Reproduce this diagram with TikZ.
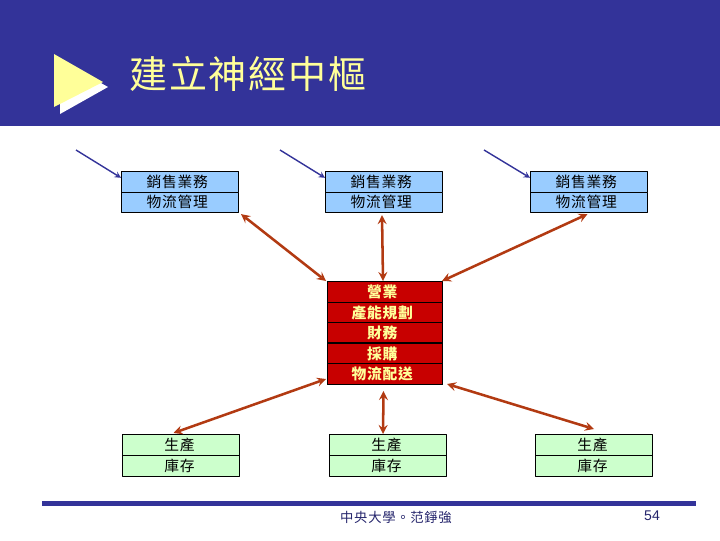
\documentclass[tikz,border=0pt]{standalone}
\usepackage{fontspec}
\setmainfont{Liberation Sans}
\newfontfamily\cjk[LetterSpace=5]{Noto Sans CJK TC}
\newfontfamily\cjktitle[LetterSpace=5]{Noto Sans CJK TC}
\definecolor{hdblue}{HTML}{333399}
\definecolor{hdyellow}{HTML}{FFFF99}
\definecolor{salesblue}{HTML}{99CCFF}
\definecolor{prodgreen}{HTML}{CCFFCC}
\definecolor{coredred}{HTML}{C80000}
\definecolor{linkbrown}{HTML}{B23A12}
\tikzset{
	cell/.style={draw=black,line width=0.7pt,minimum width=2.925cm,minimum height=0.515cm,inner sep=0pt,anchor=north west,font=\fontsize{10.5pt}{11pt}\cjk},
	salescell/.style={cell,fill=salesblue,execute at end node=\kern4pt},
	prodcell/.style={cell,fill=prodgreen,execute at end node=\kern2pt},
	corecell/.style={cell,fill=coredred,text=hdyellow,minimum width=2.875cm,font=\fontsize{10.5pt}{11pt}\cjk\bfseries,execute at end node=\kern4pt},
	biarrow/.style={<->,draw=linkbrown,line width=1.8pt},
	inarrow/.style={->,draw=hdblue,line width=1pt}
}
\begin{document}
\begin{tikzpicture}[line cap=butt,line join=round,>=stealth,x=0.025cm,y=-0.025cm]
	\useasboundingbox (0,0) rectangle (720,540);
	\fill [hdblue] (0,0) rectangle (720,126);
	\fill [white] (60,60)-- (108,87)-- (60,114)-- cycle;
	\fill [hdyellow] (54,54)-- (103,82)-- (54,107)-- cycle;
	\node (title) [anchor=west,text=hdyellow,inner sep=0pt,font=\fontsize{27pt}{28pt}\cjktitle] at (129,74) {建立神經中樞};

	\node (sales1a) [salescell] at (121,171) {銷售業務};
	\node (sales1b) [salescell] at (121,191.5) {物流管理};
	\node (sales2a) [salescell] at (325,171) {銷售業務};
	\node (sales2b) [salescell] at (325,191.5) {物流管理};
	\node (sales3a) [salescell] at (530,171) {銷售業務};
	\node (sales3b) [salescell] at (530,191.5) {物流管理};

	\node (core1) [corecell] at (327,281) {營業};
	\node (core2) [corecell] at (327,301.6) {產能規劃};
	\node (core3) [corecell] at (327,322.2) {財務};
	\node (core4) [corecell] at (327,342.8) {採購};
	\node (core5) [corecell] at (327,363.4) {物流配送};
	\draw [line width=1.3pt] (core4.north west)-- (core4.north east);

	\node (prod1a) [prodcell] at (122,434) {生產};
	\node (prod1b) [prodcell] at (122,455) {庫存};
	\node (prod2a) [prodcell] at (329,434) {生產};
	\node (prod2b) [prodcell] at (329,455) {庫存};
	\node (prod3a) [prodcell] at (535,434) {生產};
	\node (prod3b) [prodcell] at (535,455) {庫存};

	\coordinate (in1) at (76,150);
	\coordinate (in2) at (280,150);
	\coordinate (in3) at (484,150);
	\draw [inarrow] (in1)-- ([shift={(0,-4)}]sales1a.west);
	\draw [inarrow] (in2)-- ([shift={(0,-4)}]sales2a.west);
	\draw [inarrow] (in3)-- ([shift={(0,-4)}]sales3a.west);

	\draw [biarrow] ([shift={(2,1)}]sales1b.south east)-- ([shift={(-1,0)}]core1.north west);
	\draw [biarrow] ([shift={(-2,2)}]sales2b.south)-- ([shift={(-2,0)}]core1.north);
	\draw [biarrow] ([shift={(-1.5,1)}]sales3b.south)-- ([shift={(-1,0)}]core1.north east);
	\draw [biarrow] ([shift={(-1,-6)}]core5.south west)-- ([shift={(-7.5,-1)}]prod1a.north);
	\draw [biarrow] ([shift={(-1.5,6)}]core5.south)-- ([shift={(-5,0)}]prod2a.north);
	\draw [biarrow] ([shift={(4,-1)}]core5.south east)-- ([shift={(0,-5)}]prod3a.north);

	\fill [hdblue] (42,501) rectangle (696,506);
	\node (footer) [text=hdblue!70!black,inner sep=0pt,font=\fontsize{9.5pt}{10pt}\cjk] at (396,517) {中央大學。范錚強};
	\node (pageno) [text=hdblue!70!black,inner sep=0pt,font=\fontsize{9pt}{10pt}] at (652,516) {54};
\end{tikzpicture}
\end{document}
